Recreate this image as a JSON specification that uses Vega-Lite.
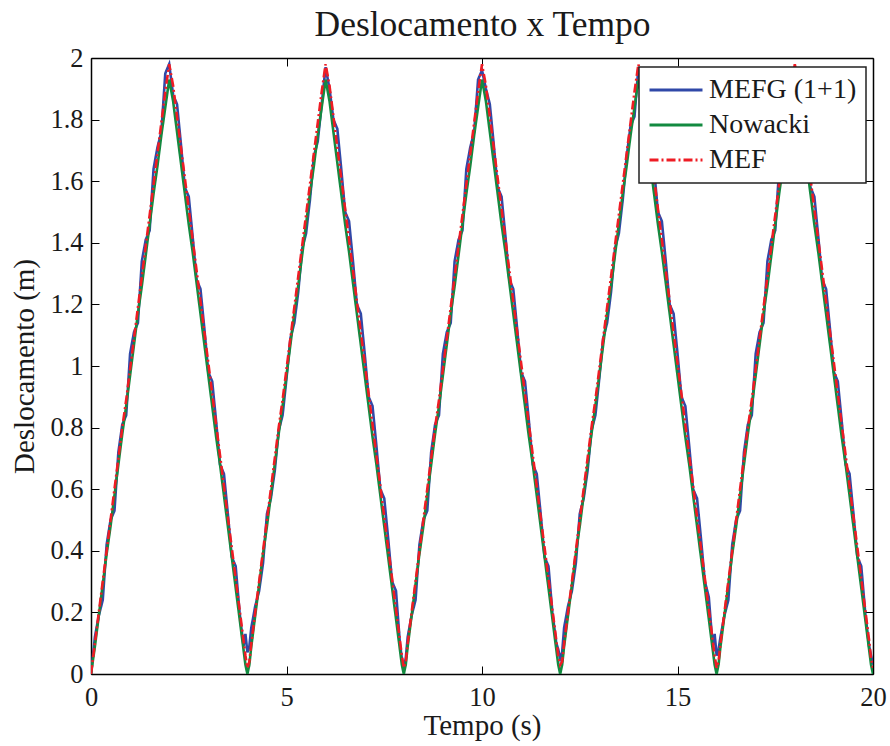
{
"$schema": "https://vega.github.io/schema/vega-lite/v6.json",
"width": 782, "height": 616,
"autosize": {"type": "none"},
"padding": {"left": 91, "top": 58, "right": 17, "bottom": 72},
"background": "white",
"config": {"view": {"stroke": null}, "font": "Liberation Serif",
  "legend": {"orient": "none", "legendX": 548, "legendY": 9, "direction": "vertical", "title": null, "symbolType": "stroke", "symbolSize": 2809, "symbolStrokeWidth": 2.8, "clipHeight": 28, "labelFont": "Liberation Serif", "labelFontSize": 28, "labelColor": "#1a1a1a", "labelOffset": 5, "rowPadding": 7, "padding": 9, "strokeColor": "#222222", "strokeWidth": 1.5, "fillColor": "white", "labelLimit": 400}},
"data": {"values": [
{"t":0,"a":0,"b":0,"c":0},
{"t":0.1,"a":0.12,"b":0.09,"c":0.10},{"t":0.2,"a":0.19,"b":0.19,"c":0.20},{"t":0.3,"a":0.24,"b":0.29,"c":0.30},{"t":0.4,"a":0.42,"b":0.39,"c":0.40},{"t":0.5,"a":0.50,"b":0.48,"c":0.50},{"t":0.6,"a":0.53,"b":0.58,"c":0.60},{"t":0.7,"a":0.72,"b":0.68,"c":0.70},{"t":0.8,"a":0.81,"b":0.78,"c":0.80},{"t":0.9,"a":0.84,"b":0.87,"c":0.89},{"t":1.0,"a":1.04,"b":0.97,"c":0.99},
{"t":1.1,"a":1.11,"b":1.07,"c":1.09},{"t":1.2,"a":1.14,"b":1.17,"c":1.19},{"t":1.3,"a":1.34,"b":1.26,"c":1.29},{"t":1.4,"a":1.41,"b":1.36,"c":1.39},{"t":1.5,"a":1.44,"b":1.46,"c":1.49},{"t":1.6,"a":1.64,"b":1.56,"c":1.59},{"t":1.7,"a":1.71,"b":1.65,"c":1.69},{"t":1.8,"a":1.76,"b":1.75,"c":1.79},{"t":1.9,"a":1.95,"b":1.84,"c":1.89},{"t":2.0,"a":1.98,"b":1.93,"c":1.98},
{"t":2.1,"a":1.88,"b":1.86,"c":1.91},{"t":2.2,"a":1.85,"b":1.76,"c":1.81},{"t":2.3,"a":1.72,"b":1.66,"c":1.71},{"t":2.4,"a":1.58,"b":1.56,"c":1.61},{"t":2.5,"a":1.55,"b":1.46,"c":1.51},{"t":2.6,"a":1.42,"b":1.37,"c":1.41},{"t":2.7,"a":1.28,"b":1.27,"c":1.31},{"t":2.8,"a":1.25,"b":1.17,"c":1.21},{"t":2.9,"a":1.12,"b":1.07,"c":1.11},{"t":3.0,"a":0.98,"b":0.97,"c":1.01},
{"t":3.1,"a":0.95,"b":0.87,"c":0.91},{"t":3.2,"a":0.82,"b":0.77,"c":0.81},{"t":3.3,"a":0.68,"b":0.68,"c":0.71},{"t":3.4,"a":0.65,"b":0.58,"c":0.61},{"t":3.5,"a":0.52,"b":0.48,"c":0.51},{"t":3.6,"a":0.38,"b":0.38,"c":0.41},{"t":3.7,"a":0.35,"b":0.28,"c":0.31},{"t":3.8,"a":0.20,"b":0.18,"c":0.21},{"t":3.9,"a":0.09,"b":0.08,"c":0.11},{"t":3.95,"a":0.13,"b":0.03,"c":0.06},
{"t":4.0,"a":0.07,"b":0,"c":0.02},{"t":4.05,"a":0.09,"b":0.03,"c":0.04},
{"t":4.1,"a":0.15,"b":0.09,"c":0.10},{"t":4.2,"a":0.22,"b":0.19,"c":0.20},{"t":4.3,"a":0.27,"b":0.29,"c":0.30},{"t":4.4,"a":0.36,"b":0.39,"c":0.40},{"t":4.5,"a":0.52,"b":0.48,"c":0.50},{"t":4.6,"a":0.57,"b":0.58,"c":0.60},{"t":4.7,"a":0.66,"b":0.68,"c":0.70},{"t":4.8,"a":0.79,"b":0.78,"c":0.80},{"t":4.9,"a":0.84,"b":0.87,"c":0.89},{"t":5.0,"a":0.96,"b":0.97,"c":0.99},
{"t":5.1,"a":1.09,"b":1.07,"c":1.09},{"t":5.2,"a":1.14,"b":1.17,"c":1.19},{"t":5.3,"a":1.24,"b":1.26,"c":1.29},{"t":5.4,"a":1.38,"b":1.36,"c":1.39},{"t":5.5,"a":1.43,"b":1.46,"c":1.49},{"t":5.6,"a":1.54,"b":1.56,"c":1.59},{"t":5.7,"a":1.68,"b":1.65,"c":1.69},{"t":5.8,"a":1.73,"b":1.75,"c":1.79},{"t":5.9,"a":1.85,"b":1.84,"c":1.89},{"t":6.0,"a":1.97,"b":1.93,"c":1.98},
{"t":6.1,"a":1.90,"b":1.86,"c":1.91},{"t":6.2,"a":1.80,"b":1.76,"c":1.81},{"t":6.3,"a":1.77,"b":1.66,"c":1.71},{"t":6.4,"a":1.64,"b":1.56,"c":1.61},{"t":6.5,"a":1.50,"b":1.46,"c":1.51},{"t":6.6,"a":1.47,"b":1.37,"c":1.41},{"t":6.7,"a":1.34,"b":1.27,"c":1.31},{"t":6.8,"a":1.20,"b":1.17,"c":1.21},{"t":6.9,"a":1.17,"b":1.07,"c":1.11},{"t":7.0,"a":1.04,"b":0.97,"c":1.01},
{"t":7.1,"a":0.90,"b":0.87,"c":0.91},{"t":7.2,"a":0.87,"b":0.77,"c":0.81},{"t":7.3,"a":0.74,"b":0.68,"c":0.71},{"t":7.4,"a":0.60,"b":0.58,"c":0.61},{"t":7.5,"a":0.57,"b":0.48,"c":0.51},{"t":7.6,"a":0.44,"b":0.38,"c":0.41},{"t":7.7,"a":0.30,"b":0.28,"c":0.31},{"t":7.8,"a":0.27,"b":0.18,"c":0.21},{"t":7.9,"a":0.10,"b":0.08,"c":0.11},{"t":7.95,"a":0.05,"b":0.03,"c":0.06},
{"t":8.0,"a":0.02,"b":0,"c":0.02},{"t":8.05,"a":0.05,"b":0.03,"c":0.04},
{"t":8.1,"a":0.12,"b":0.09,"c":0.10},{"t":8.2,"a":0.19,"b":0.19,"c":0.20},{"t":8.3,"a":0.24,"b":0.29,"c":0.30},{"t":8.4,"a":0.42,"b":0.39,"c":0.40},{"t":8.5,"a":0.50,"b":0.48,"c":0.50},{"t":8.6,"a":0.53,"b":0.58,"c":0.60},{"t":8.7,"a":0.72,"b":0.68,"c":0.70},{"t":8.8,"a":0.81,"b":0.78,"c":0.80},{"t":8.9,"a":0.84,"b":0.87,"c":0.89},{"t":9.0,"a":1.04,"b":0.97,"c":0.99},
{"t":9.1,"a":1.11,"b":1.07,"c":1.09},{"t":9.2,"a":1.14,"b":1.17,"c":1.19},{"t":9.3,"a":1.34,"b":1.26,"c":1.29},{"t":9.4,"a":1.41,"b":1.36,"c":1.39},{"t":9.5,"a":1.44,"b":1.46,"c":1.49},{"t":9.6,"a":1.64,"b":1.56,"c":1.59},{"t":9.7,"a":1.71,"b":1.65,"c":1.69},{"t":9.8,"a":1.76,"b":1.75,"c":1.79},{"t":9.9,"a":1.93,"b":1.84,"c":1.89},{"t":10.0,"a":1.96,"b":1.93,"c":1.98},
{"t":10.1,"a":1.90,"b":1.86,"c":1.91},{"t":10.2,"a":1.85,"b":1.76,"c":1.81},{"t":10.3,"a":1.72,"b":1.66,"c":1.71},{"t":10.4,"a":1.58,"b":1.56,"c":1.61},{"t":10.5,"a":1.55,"b":1.46,"c":1.51},{"t":10.6,"a":1.42,"b":1.37,"c":1.41},{"t":10.7,"a":1.28,"b":1.27,"c":1.31},{"t":10.8,"a":1.25,"b":1.17,"c":1.21},{"t":10.9,"a":1.12,"b":1.07,"c":1.11},{"t":11.0,"a":0.98,"b":0.97,"c":1.01},
{"t":11.1,"a":0.95,"b":0.87,"c":0.91},{"t":11.2,"a":0.82,"b":0.77,"c":0.81},{"t":11.3,"a":0.68,"b":0.68,"c":0.71},{"t":11.4,"a":0.65,"b":0.58,"c":0.61},{"t":11.5,"a":0.52,"b":0.48,"c":0.51},{"t":11.6,"a":0.38,"b":0.38,"c":0.41},{"t":11.7,"a":0.35,"b":0.28,"c":0.31},{"t":11.8,"a":0.20,"b":0.18,"c":0.21},{"t":11.9,"a":0.10,"b":0.08,"c":0.11},{"t":11.95,"a":0.08,"b":0.03,"c":0.06},
{"t":12.0,"a":0.05,"b":0,"c":0.03},{"t":12.05,"a":0.07,"b":0.03,"c":0.04},
{"t":12.1,"a":0.15,"b":0.09,"c":0.10},{"t":12.2,"a":0.22,"b":0.19,"c":0.20},{"t":12.3,"a":0.27,"b":0.29,"c":0.30},{"t":12.4,"a":0.36,"b":0.39,"c":0.40},{"t":12.5,"a":0.52,"b":0.48,"c":0.50},{"t":12.6,"a":0.57,"b":0.58,"c":0.60},{"t":12.7,"a":0.66,"b":0.68,"c":0.70},{"t":12.8,"a":0.79,"b":0.78,"c":0.80},{"t":12.9,"a":0.84,"b":0.87,"c":0.89},{"t":13.0,"a":0.96,"b":0.97,"c":0.99},
{"t":13.1,"a":1.09,"b":1.07,"c":1.09},{"t":13.2,"a":1.14,"b":1.17,"c":1.19},{"t":13.3,"a":1.24,"b":1.26,"c":1.29},{"t":13.4,"a":1.38,"b":1.36,"c":1.39},{"t":13.5,"a":1.43,"b":1.46,"c":1.49},{"t":13.6,"a":1.54,"b":1.56,"c":1.59},{"t":13.7,"a":1.68,"b":1.65,"c":1.69},{"t":13.8,"a":1.78,"b":1.75,"c":1.79},{"t":13.9,"a":1.81,"b":1.84,"c":1.89},{"t":14.0,"a":1.97,"b":1.93,"c":1.98},
{"t":14.1,"a":1.90,"b":1.86,"c":1.91},{"t":14.2,"a":1.80,"b":1.76,"c":1.81},{"t":14.3,"a":1.77,"b":1.66,"c":1.71},{"t":14.4,"a":1.64,"b":1.56,"c":1.61},{"t":14.5,"a":1.50,"b":1.46,"c":1.51},{"t":14.6,"a":1.47,"b":1.37,"c":1.41},{"t":14.7,"a":1.34,"b":1.27,"c":1.31},{"t":14.8,"a":1.20,"b":1.17,"c":1.21},{"t":14.9,"a":1.17,"b":1.07,"c":1.11},{"t":15.0,"a":1.04,"b":0.97,"c":1.01},
{"t":15.1,"a":0.90,"b":0.87,"c":0.91},{"t":15.2,"a":0.87,"b":0.77,"c":0.81},{"t":15.3,"a":0.74,"b":0.68,"c":0.71},{"t":15.4,"a":0.60,"b":0.58,"c":0.61},{"t":15.5,"a":0.57,"b":0.48,"c":0.51},{"t":15.6,"a":0.44,"b":0.38,"c":0.41},{"t":15.7,"a":0.30,"b":0.28,"c":0.31},{"t":15.8,"a":0.25,"b":0.18,"c":0.21},{"t":15.9,"a":0.09,"b":0.08,"c":0.11},{"t":15.95,"a":0.13,"b":0.03,"c":0.06},
{"t":16.0,"a":0.06,"b":0,"c":0.02},{"t":16.05,"a":0.08,"b":0.03,"c":0.04},
{"t":16.1,"a":0.12,"b":0.09,"c":0.10},{"t":16.2,"a":0.19,"b":0.19,"c":0.20},{"t":16.3,"a":0.24,"b":0.29,"c":0.30},{"t":16.4,"a":0.42,"b":0.39,"c":0.40},{"t":16.5,"a":0.50,"b":0.48,"c":0.50},{"t":16.6,"a":0.53,"b":0.58,"c":0.60},{"t":16.7,"a":0.72,"b":0.68,"c":0.70},{"t":16.8,"a":0.81,"b":0.78,"c":0.80},{"t":16.9,"a":0.84,"b":0.87,"c":0.89},{"t":17.0,"a":1.04,"b":0.97,"c":0.99},
{"t":17.1,"a":1.11,"b":1.07,"c":1.09},{"t":17.2,"a":1.14,"b":1.17,"c":1.19},{"t":17.3,"a":1.34,"b":1.26,"c":1.29},{"t":17.4,"a":1.41,"b":1.36,"c":1.39},{"t":17.5,"a":1.44,"b":1.46,"c":1.49},{"t":17.6,"a":1.64,"b":1.56,"c":1.59},{"t":17.7,"a":1.71,"b":1.65,"c":1.69},{"t":17.8,"a":1.76,"b":1.75,"c":1.79},{"t":17.9,"a":1.93,"b":1.84,"c":1.89},{"t":18.0,"a":1.97,"b":1.93,"c":1.98},
{"t":18.1,"a":1.88,"b":1.86,"c":1.91},{"t":18.2,"a":1.85,"b":1.76,"c":1.81},{"t":18.3,"a":1.72,"b":1.66,"c":1.71},{"t":18.4,"a":1.58,"b":1.56,"c":1.61},{"t":18.5,"a":1.55,"b":1.46,"c":1.51},{"t":18.6,"a":1.42,"b":1.37,"c":1.41},{"t":18.7,"a":1.28,"b":1.27,"c":1.31},{"t":18.8,"a":1.25,"b":1.17,"c":1.21},{"t":18.9,"a":1.12,"b":1.07,"c":1.11},{"t":19.0,"a":0.98,"b":0.97,"c":1.01},
{"t":19.1,"a":0.95,"b":0.87,"c":0.91},{"t":19.2,"a":0.82,"b":0.77,"c":0.81},{"t":19.3,"a":0.68,"b":0.68,"c":0.71},{"t":19.4,"a":0.65,"b":0.58,"c":0.61},{"t":19.5,"a":0.52,"b":0.48,"c":0.51},{"t":19.6,"a":0.38,"b":0.38,"c":0.41},{"t":19.7,"a":0.35,"b":0.28,"c":0.31},{"t":19.8,"a":0.20,"b":0.18,"c":0.21},{"t":19.9,"a":0.09,"b":0.08,"c":0.11},{"t":19.95,"a":0.06,"b":0.03,"c":0.05},
{"t":20.0,"a":0.03,"b":0,"c":0.02}
]},
"transform": [{"fold": ["a", "b", "c"], "as": ["s", "y"]}],
"layer": [
  {"mark": {"type": "line", "strokeWidth": 2.6, "clip": true},
   "encoding": {
     "x": {"field": "t", "type": "quantitative", "scale": {"domain": [0, 20], "nice": false, "zero": false},
       "axis": {"orient": "bottom", "values": [0, 5, 10, 15, 20], "tickSize": -8, "labelPadding": 18, "labelFontSize": 26.5, "labelFont": "Liberation Serif", "labelColor": "#1a1a1a", "labelFlush": false, "labelOverlap": false, "title": "Tempo (s)", "titleFont": "Liberation Serif", "titleFontSize": 29, "titleFontWeight": "normal", "titleColor": "#1a1a1a", "titlePadding": 1, "domainColor": "black", "domainWidth": 1.5, "tickColor": "black", "tickWidth": 1, "grid": false}},
     "y": {"field": "y", "type": "quantitative", "scale": {"domain": [0, 2], "nice": false},
       "axis": {"orient": "left", "values": [0, 0.2, 0.4, 0.6, 0.8, 1, 1.2, 1.4, 1.6, 1.8, 2], "format": "~g", "tickSize": -8, "labelPadding": 16, "labelFontSize": 26.5, "labelFont": "Liberation Serif", "labelColor": "#1a1a1a", "labelFlush": false, "labelOverlap": false, "title": "Deslocamento (m)", "titleFont": "Liberation Serif", "titleFontSize": 29, "titleFontWeight": "normal", "titleColor": "#1a1a1a", "titlePadding": 10, "domainColor": "black", "domainWidth": 1.5, "tickColor": "black", "tickWidth": 1, "grid": false}},
     "color": {"field": "s", "type": "nominal", "scale": {"domain": ["a", "b", "c"], "range": ["#3048a8", "#138a40", "#ee1c24"]},
       "legend": {"labelExpr": "datum.value == 'a' ? 'MEFG (1+1)' : datum.value == 'b' ? 'Nowacki' : 'MEF'"}},
     "strokeDash": {"field": "s", "type": "nominal", "scale": {"domain": ["a", "b", "c"], "range": [[1, 0], [1, 0], [9, 3, 2, 3]]},
       "legend": {"labelExpr": "datum.value == 'a' ? 'MEFG (1+1)' : datum.value == 'b' ? 'Nowacki' : 'MEF'"}}
   }},
  {"mark": {"type": "point", "opacity": 0},
   "encoding": {
     "x": {"field": "t", "type": "quantitative", "axis": {"orient": "top", "values": [0, 5, 10, 15, 20], "tickSize": -8, "labels": false, "title": "Deslocamento x Tempo", "titleFont": "Liberation Serif", "titleFontSize": 35.5, "titleFontWeight": "normal", "titleColor": "#1a1a1a", "titlePadding": 15, "domainColor": "black", "domainWidth": 1.5, "tickColor": "black", "grid": false}},
     "y": {"field": "y", "type": "quantitative", "axis": {"orient": "right", "values": [0, 0.2, 0.4, 0.6, 0.8, 1, 1.2, 1.4, 1.6, 1.8, 2], "tickSize": -8, "labels": false, "title": null, "domainColor": "black", "domainWidth": 1.5, "tickColor": "black", "grid": false}}
   }}
],
"resolve": {"axis": {"x": "independent", "y": "independent"}}
}
